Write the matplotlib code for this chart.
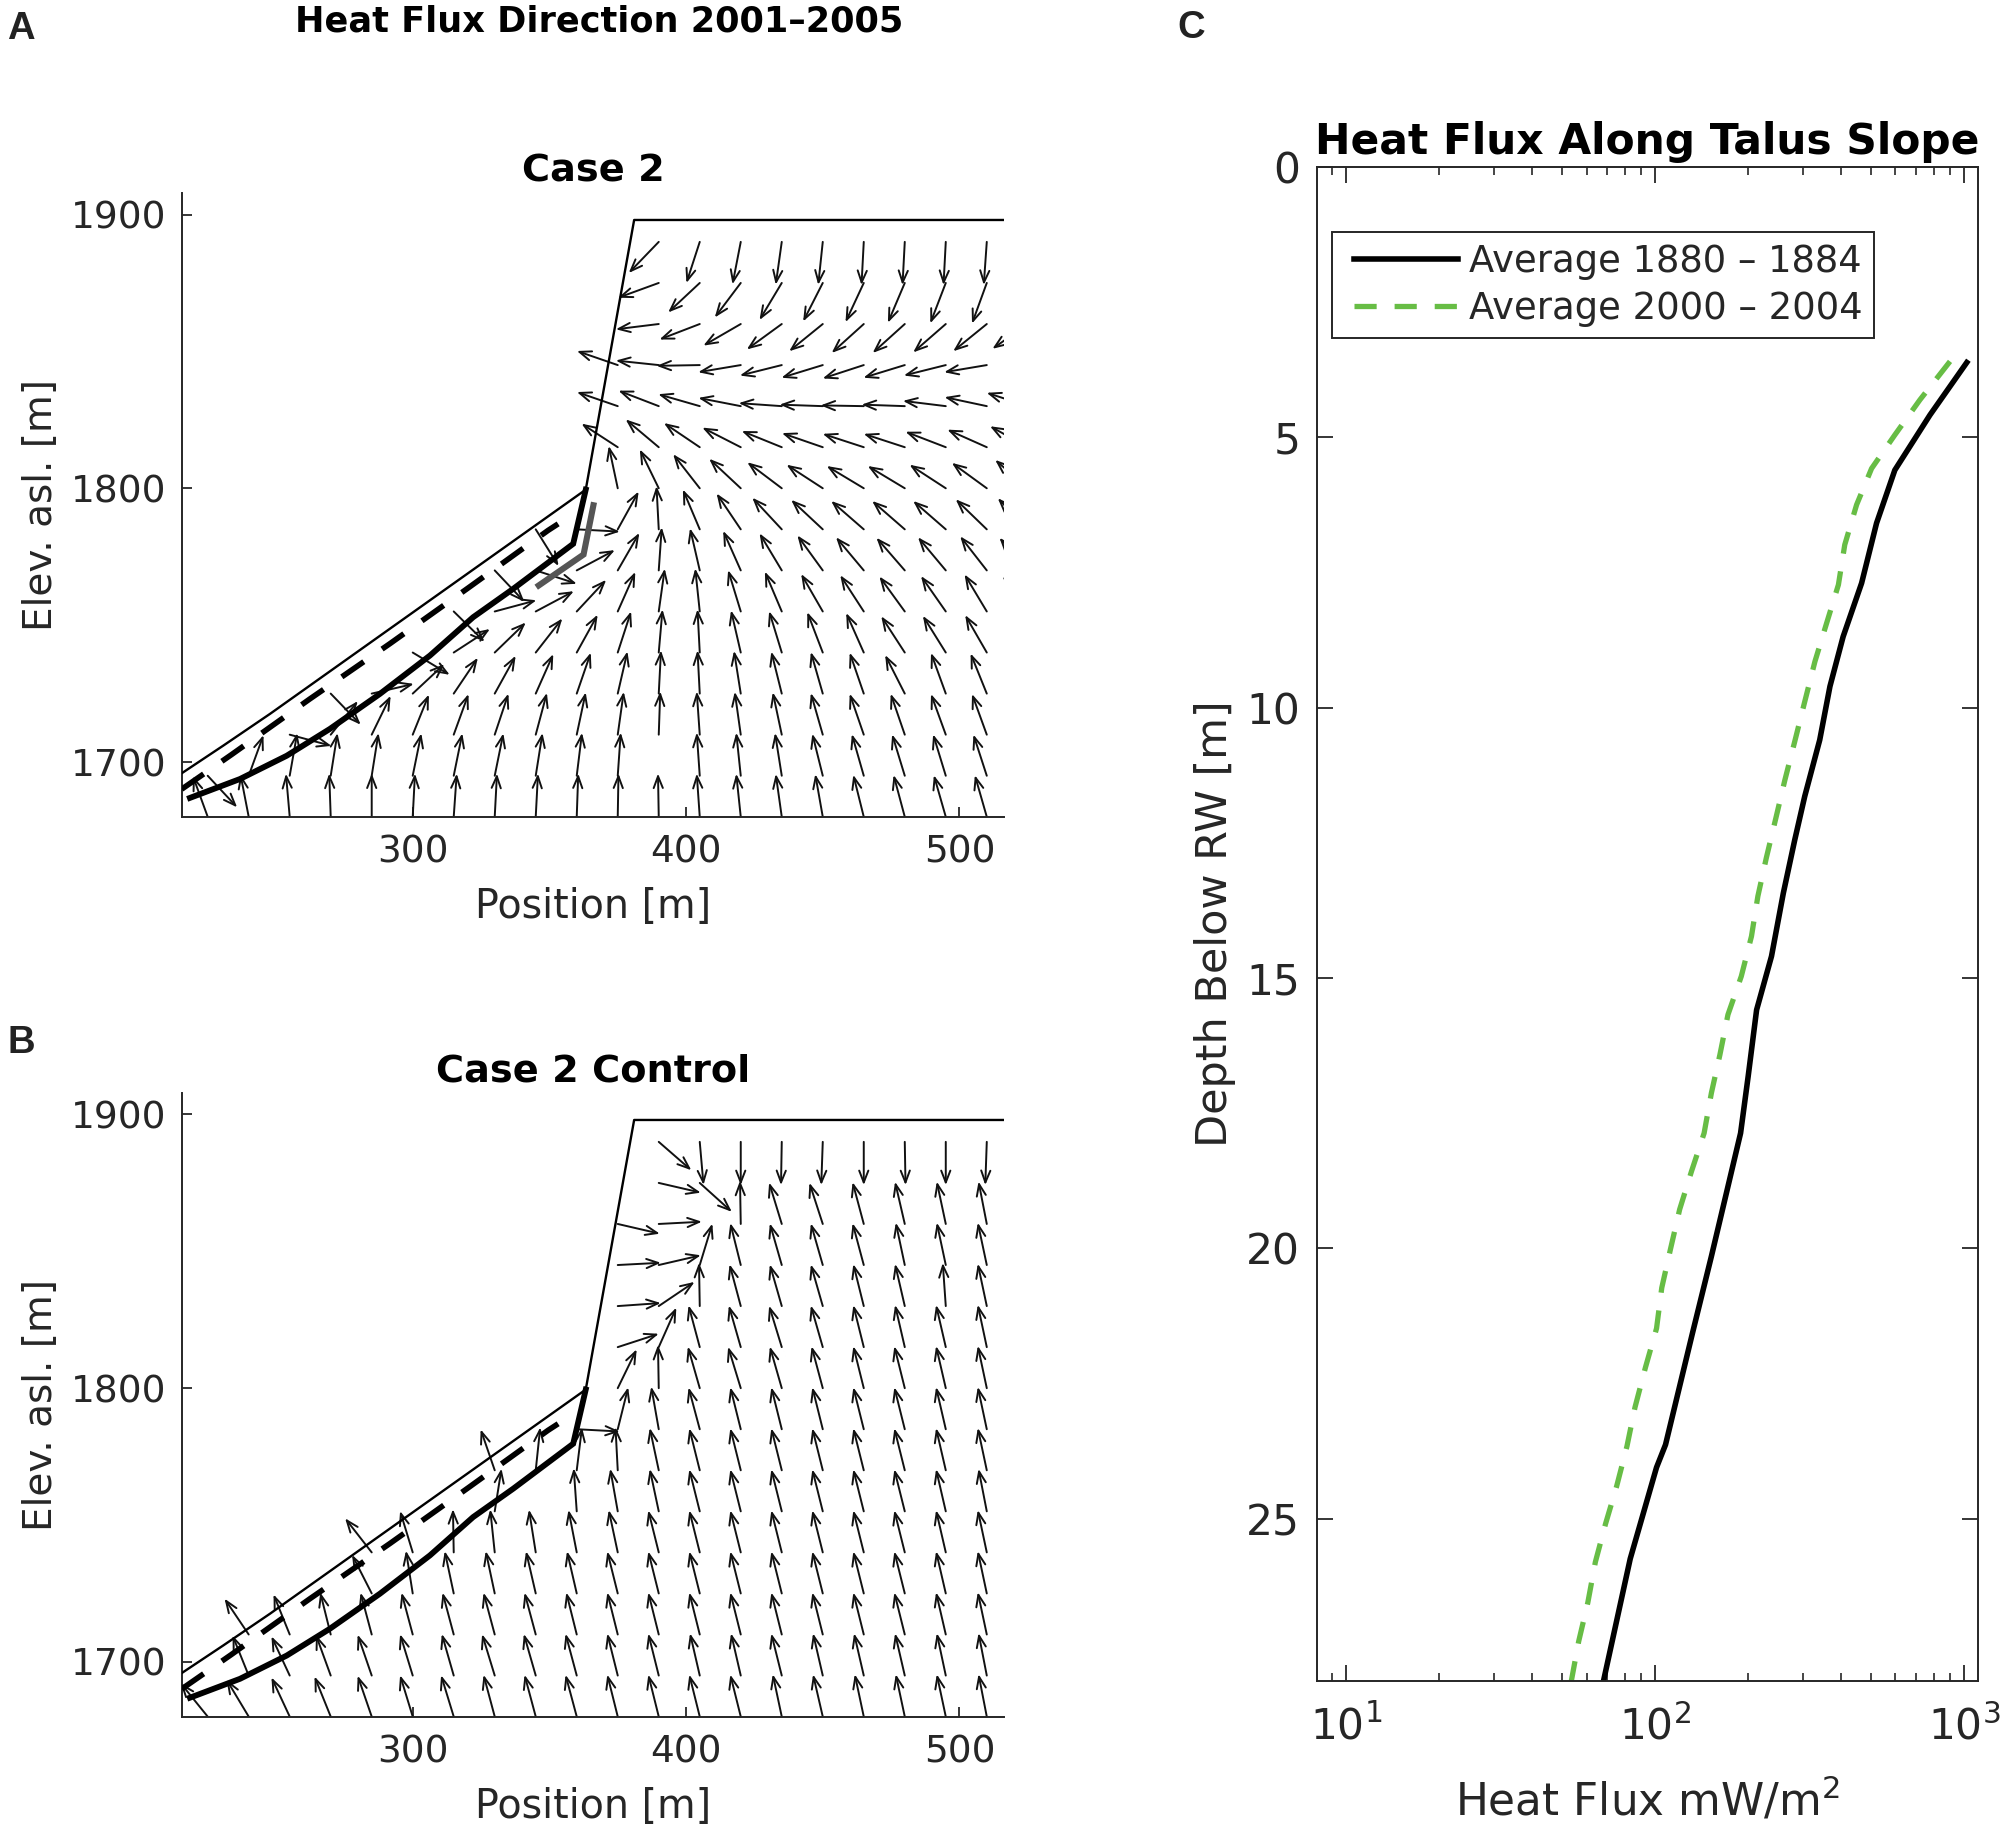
import numpy as np
import matplotlib
matplotlib.use("Agg")
import matplotlib.pyplot as plt
from matplotlib.patches import FancyArrowPatch
from matplotlib.ticker import NullFormatter

plt.rcParams['font.family'] = ['DejaVu Sans']
plt.rcParams['mathtext.fontset'] = 'dejavusans'

W, H = 2000, 1828
dark = '#262626'
n = np.nan

# arrow grid, arrows all have the same length (m), direction in degrees
grid_x = np.arange(225, 526, 15)
grid_y = np.arange(1680, 1891, 15)
arrow_len = 15.8

case2_dir = [
    [110, 101, 95, 92, 90, 87, 86, 87, 87, 88, 89, 91, 94, 96, 98, 100, 104, 105, 106, 106, n],
    [-47, 70, 80, 81, 81, 78.5, 78.5, 78.5, 81, 83, 86, n, 94, 96, 99, 104, 106, 107, 107, 108, n],
    [n, n, -15, 51, 64, 68, 70, 71.5, 75, 78, 82, 88, 94, 98, 102, 106, 109, 109, 110, 110, n],
    [n, n, n, -46, 13, 43, 56, 61, 66, 71, 77, 87, 93, 99, 104, 106, 109, 117, 110, 112, n],
    [n, n, n, n, n, -31, 33, 44, 52, 61, 72, 85, 93, 103, 107, 111, 114, 123, 122, 120, n],
    [n, n, n, n, n, n, -44.5, 15, 28, 47, 66, 82, 96, 107, 113, 120, 123, 126, 125, 121, 125],
    [n, n, n, n, n, n, n, -46.6, -18, 28, 60, 86, 103, 114, 121, 126, 130, 131, 130, 128, 131],
    [n, n, n, n, n, n, n, n, -58, -3, 61, 93, 113, 124, 133, 137, 139, 139, 139, 136, 134],
    [n, n, n, n, n, n, n, n, n, n, 102, 116, 128, 137, 143, 147, 149, 149, 147, 144, 139],
    [n, n, n, n, n, n, n, n, n, n, 147, 140, 146, 153, 158, 161, 162, 162, 159, 156, 151],
    [n, n, n, n, n, n, n, n, n, n, 161, 159, 164, 169, 176, 178, 179, 178, 173, 168, 162],
    [n, n, n, n, n, n, n, n, n, n, 161, 174, 181, 189.5, 194, 197, 198, 197, 194, 189.5, n],
    [n, n, n, n, n, n, n, n, n, n, n, 187, 201, 210, 216, 219, 222, 222, 221, 219, 215],
    [n, n, n, n, n, n, n, n, n, n, n, 200, 223, 233, 239, 243, 245, 247, 249, 250, n],
    [n, n, n, n, n, n, n, n, n, n, n, 226, 252, 259, 262, 264, 267, 267, 267, 266, n],
]

control_dir = [
    [129, 121, 115, 112, 109, 107, 107, 105, 105, 105, 104, 104, 104, 104, 102, 103, 102, 102, 102, 101, n],
    [n, 112, 115, 110, 109, 107, 106, 107, 106, 105, 104, 104, 103, 103, 104, 103, 103, 103, 102, 101, n],
    [n, 124, 112, 104, 105, 105, 105, 105, 105, 104, 104, 104, 104, 104, 104, 104, 104, 104, 103, 102, n],
    [n, n, n, n, 117, 99, 102, 102, 103, 103, 104, 104, 104, 104, 104, 104, 104, 104, 103, 102, n],
    [n, n, n, n, 128, 107, 91, 96, 99, 101, 102, 104, 104, 104, 104, 104, 104, 104, 103, 102, n],
    [n, n, n, n, n, n, n, 81, n, 94, 100, 102, 104, 104, 104, 104, 104, 104, 103, 101, n],
    [n, n, n, n, n, n, n, 109, 84, 83, 93, 102, 104, 104, 104, 104, 104, 104, 103, 102, n],
    [n, n, n, n, n, n, n, n, n, -3, 76, 100, 105, 104, 104, 104, 104, 104, 103, 102, n],
    [n, n, n, n, n, n, n, n, n, n, 64, 91, 106, 107, 106, 105, 104, 104, 103, 102, n],
    [n, n, n, n, n, n, n, n, n, n, 18, 66, 105, 106, 107, 106, 104, 103, 103, 102, n],
    [n, n, n, n, n, n, n, n, n, n, 4, 34, 91, 105, 106, 106, 104, 103, 94, 102, n],
    [n, n, n, n, n, n, n, n, n, n, 3, 13, 73, 104, 106, 106, 105, 102, 102, 102, n],
    [n, n, n, n, n, n, n, n, n, n, -13, 3, n, 91, 107, 108, 105, 103, 102, 101, n],
    [n, n, n, n, n, n, n, n, n, n, n, -13, -42, n, n, n, n, n, n, n, n],
    [n, n, n, n, n, n, n, n, n, n, n, -41, -85, 270, 269, 268, 270, 271, 270, 268, n],
]

# talus geometry
surface_x = [215.5, 230.7, 247.8, 363.3, 381, 516.3]
surface_y = [1695.9, 1706, 1717.6, 1799.5, 1898, 1898]
bedrock_x = [218.5, 236.8, 253.9, 269.7, 288, 306.3, 322.1, 336.8, 358.7, 363.3]
bedrock_y = [1686.9, 1693.8, 1702.3, 1712.1, 1724.9, 1738.9, 1752.9, 1763.3, 1779.7, 1799.5]
midslope_x = [215.5, 233.7, 262.3, 291.6, 320.3, 349.5, 353.2]
midslope_y = [1690.1, 1702.7, 1723, 1743.2, 1763.6, 1784.6, 1787]
rw_x = [346.1, 362.5, 366.1]
rw_y = [1764.5, 1775.8, 1793.8]

# panel C
flux_1880 = [1021, 776, 597, 521, 466, 406, 368, 341, 305, 283, 260, 238, 213, 200, 189,
             170, 152, 132, 108, 101, 83, 68]
depth_1880 = [3.62, 4.59, 5.61, 6.59, 7.70, 8.69, 9.61, 10.6, 11.64, 12.45, 13.43, 14.6, 15.59, 16.82, 17.87,
              18.98, 20.15, 21.57, 23.63, 24.05, 25.74, 28.0]
flux_2000 = [901, 720, 597, 502, 449, 411, 392, 359, 329, 305, 283, 263, 246, 229, 215, 205, 190, 172,
             162, 152, 144, 131, 120, 112, 105, 101, 93, 86, 81, 75, 69, 64, 60.5, 56.5, 53.5]
depth_2000 = [3.6, 4.31, 4.96, 5.58, 6.25, 6.99, 7.73, 8.44, 9.15, 9.89, 10.63, 11.34, 12.04, 12.78, 13.49, 14.23, 14.97, 15.68,
              16.42, 17.13, 17.87, 18.58, 19.28, 20.02, 20.73, 21.48, 22.2, 22.94, 23.66, 24.4, 25.1, 25.8, 26.55, 27.27, 28.0]


def px_axes(left, top, right, bottom):
    return fig.add_axes([left / W, 1 - bottom / H, (right - left) / W, (bottom - top) / H])


def flux_panel(ax, directions, title):
    # open arrow heads like matlab quiver, so one patch per arrow
    ang = np.radians(np.array(directions, dtype=float))
    for i, y in enumerate(grid_y):
        for j, x in enumerate(grid_x):
            if np.isnan(ang[i, j]):
                continue
            tip = (x + arrow_len * np.cos(ang[i, j]), y + arrow_len * np.sin(ang[i, j]))
            ax.add_patch(FancyArrowPatch((x, y), tip, arrowstyle='->,head_length=8.5,head_width=3.3',
                                         mutation_scale=1, shrinkA=0, shrinkB=0, lw=1.4,
                                         color='#111111', zorder=2))
    ax.plot(surface_x, surface_y, color='k', lw=1.7, zorder=3)
    ax.plot(bedrock_x, bedrock_y, color='k', lw=4.2, zorder=3, solid_joinstyle='miter')
    ax.plot(midslope_x, midslope_y, color='k', lw=4, dashes=(4.8, 4), zorder=3)
    ax.set_xlim(215.6, 516.3)
    ax.set_ylim(1680, 1908)
    ax.set_xticks([300, 400, 500])
    ax.set_yticks([1700, 1800, 1900])
    ax.spines['top'].set_visible(False)
    ax.spines['right'].set_visible(False)
    for s in ax.spines.values():
        s.set_color(dark)
        s.set_linewidth(1.4)
    ax.tick_params(direction='in', length=7, width=1.3, color=dark, labelcolor=dark, labelsize=27)
    ax.tick_params(axis='x', pad=13)
    ax.tick_params(axis='y', pad=11)
    ax.set_xlabel('Position [m]', fontsize=28.5, color=dark)
    ax.set_ylabel('Elev. asl. [m]', fontsize=28, color=dark)
    ax.xaxis.set_label_coords(0.5, -0.113)
    ax.yaxis.set_label_coords(-0.148, 0.5)
    ax.set_title(title, fontsize=27.5, fontweight='bold', color='k', pad=8)


fig = plt.figure(figsize=(W / 100, H / 100), dpi=100)

ax_a = px_axes(182, 192.6, 1004, 816.8)
flux_panel(ax_a, case2_dir, 'Case 2')
ax_a.plot(rw_x, rw_y, color='#555555', lw=4.4, zorder=4, solid_joinstyle='miter')

ax_b = px_axes(182, 1092.6, 1004, 1716.6)
flux_panel(ax_b, control_dir, 'Case 2 Control')

ax_c = px_axes(1317, 166.7, 1978, 1681)
ax_c.plot(flux_1880, depth_1880, color='k', lw=4, label='Average 1880 – 1884')
ax_c.plot(flux_2000, depth_2000, color='#67bd45', lw=3.8, dashes=(4.2, 3.4), label='Average 2000 – 2004')
ax_c.set_xscale('log')
ax_c.set_xlim(8.03, 1110)
ax_c.set_ylim(28, 0)
ax_c.set_yticks([0, 5, 10, 15, 20, 25])
ax_c.xaxis.set_minor_formatter(NullFormatter())
for s in ax_c.spines.values():
    s.set_color(dark)
    s.set_linewidth(1.4)
ax_c.tick_params(which='major', direction='in', length=11.5, width=1.3, color=dark, labelcolor=dark,
                 labelsize=30.5, top=True, right=True)
ax_c.tick_params(which='minor', direction='in', length=6, width=1.2, color=dark, top=True)
ax_c.tick_params(axis='x', which='major', pad=18)
ax_c.tick_params(axis='y', which='major', pad=12)
ax_c.set_xlabel('Heat Flux mW/m$^2$', fontsize=31.5, color=dark)
ax_c.set_ylabel('Depth Below RW [m]', fontsize=31, color=dark)
ax_c.xaxis.set_label_coords(0.5, -0.063)
ax_c.yaxis.set_label_coords(-0.123, 0.5)
ax_c.set_title('Heat Flux Along Talus Slope', fontsize=30.5, fontweight='bold', color='k', pad=9)
leg = ax_c.legend(loc='upper left', bbox_to_anchor=(14.5 / 661, 1 - 65 / 1514.3), borderaxespad=0,
                  fontsize=26.6, frameon=True, fancybox=False, framealpha=1, edgecolor=dark,
                  numpoints=2, handlelength=3.42, handletextpad=0.0, labelspacing=0.27, borderpad=0.3)
leg.get_frame().set_linewidth(1.4)
for t in leg.get_texts():
    t.set_color(dark)

fig.text(599 / W, 1 - 31 / H, 'Heat Flux Direction 2001–2005', fontsize=25.3, fontweight='bold',
         ha='center', va='baseline', color='k')
for lab, px, py in [('A', 7, 39), ('B', 7, 1053), ('C', 1177, 38)]:
    fig.text(px / W, 1 - py / H, lab, fontsize=27.5, fontweight='bold', family='Liberation Sans',
             ha='left', va='baseline', color='#222222')

fig.savefig('out.png', dpi=100, facecolor='white')
